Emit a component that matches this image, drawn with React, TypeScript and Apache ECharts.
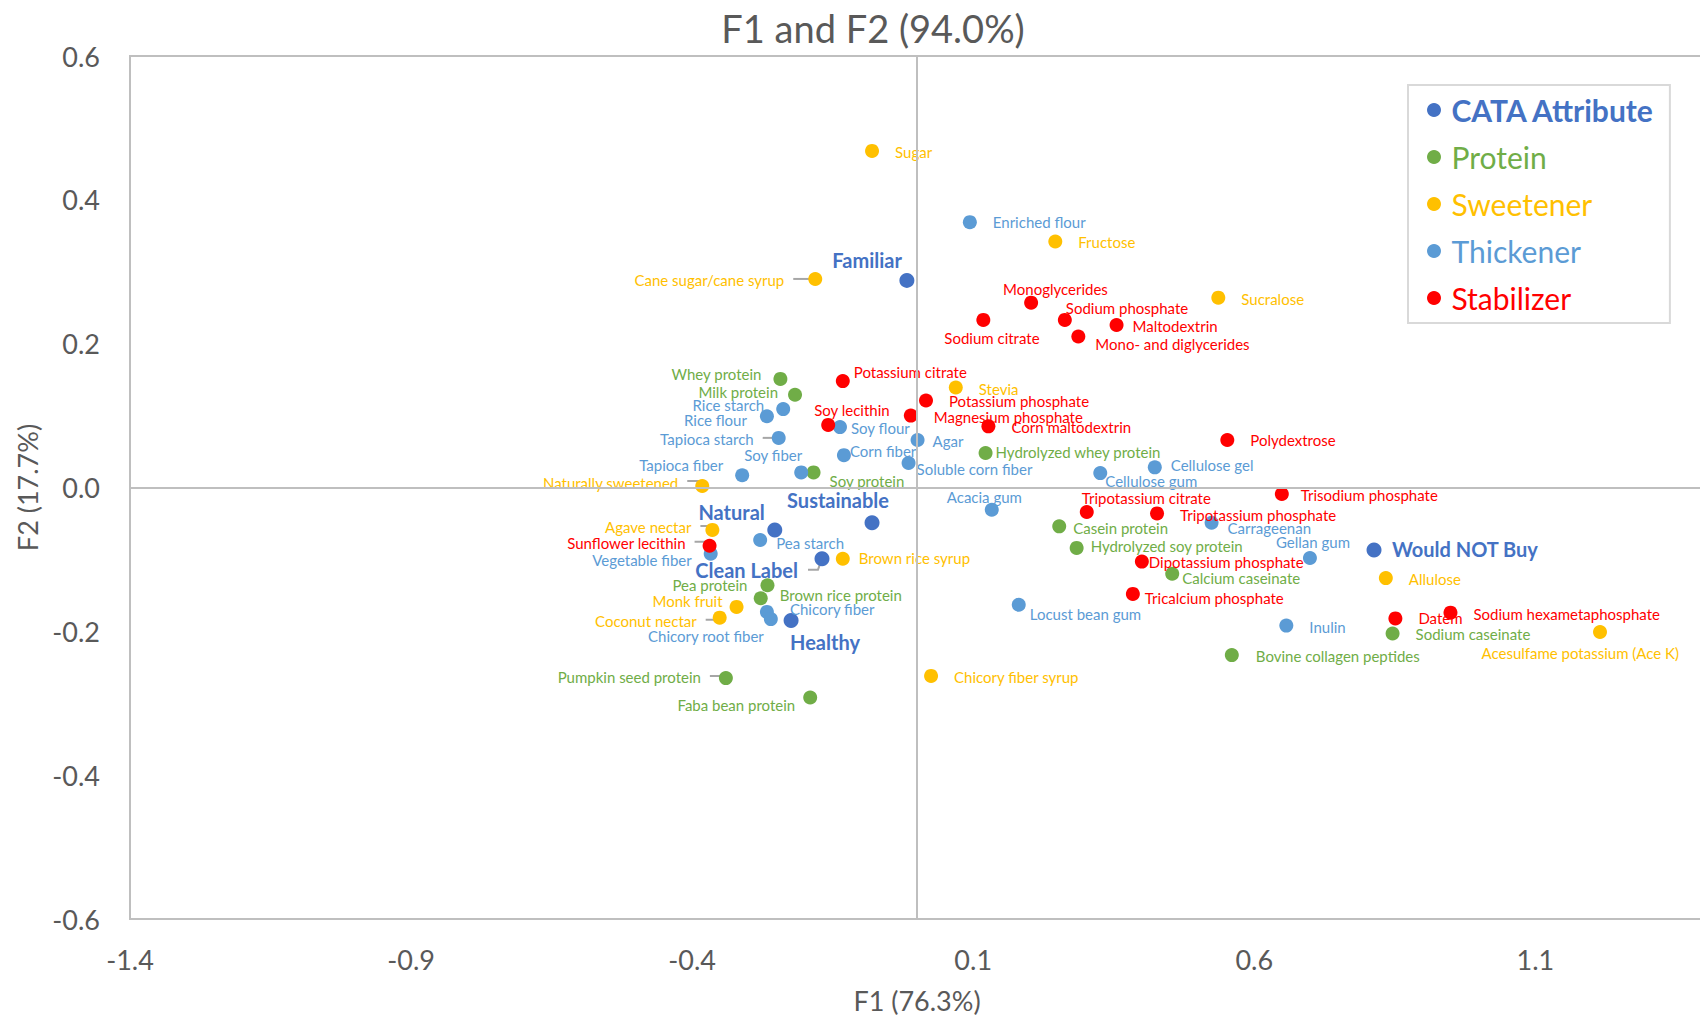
import React, { useEffect, useRef } from 'react';
import * as echarts from 'echarts';

const FONT = 'Lato, "Noto Sans", sans-serif';

// ---------- DATA ----------
const cataNames = ['Familiar', 'Sustainable', 'Natural', 'Clean Label', 'Healthy', 'Would NOT Buy'];
const cataF1 = [-0.018, -0.080, -0.253, -0.169, -0.224, 0.813];
const cataF2 = [0.288, -0.049, -0.059, -0.099, -0.185, -0.087];

const proteinNames = ['Whey protein', 'Milk protein', 'Soy protein', 'Hydrolyzed whey protein', 'Casein protein',
  'Hydrolyzed soy protein', 'Calcium caseinate', 'Pea protein', 'Brown rice protein', 'Bovine collagen peptides',
  'Sodium caseinate', 'Pumpkin seed protein', 'Faba bean protein'];
const proteinF1 = [-0.243, -0.217, -0.184, 0.122, 0.253, 0.284, 0.454, -0.266, -0.278, 0.560, 0.846, -0.340, -0.190];
const proteinF2 = [0.151, 0.129, 0.021, 0.048, -0.054, -0.084, -0.120, -0.136, -0.154, -0.233, -0.203, -0.265, -0.292];

const sweetenerNames = ['Sugar', 'Fructose', 'Cane sugar/cane syrup', 'Sucralose', 'Stevia', 'Naturally sweetened',
  'Agave nectar', 'Brown rice syrup', 'Allulose', 'Monk fruit', 'Coconut nectar', 'Acesulfame potassium (Ace K)',
  'Chicory fiber syrup'];
const sweetenerF1 = [-0.080, 0.246, -0.181, 0.536, 0.069, -0.382, -0.364, -0.132, 0.834, -0.321, -0.351, 1.215, 0.025];
const sweetenerF2 = [0.468, 0.342, 0.290, 0.264, 0.139, 0.002, -0.059, -0.099, -0.126, -0.166, -0.181, -0.201, -0.262];

const thickenerNames = ['Enriched flour', 'Rice starch', 'Rice flour', 'Soy flour', 'Tapioca starch', 'Agar',
  'Corn fiber', 'Soluble corn fiber', 'Tapioca fiber', 'Soy fiber', 'Cellulose gel', 'Cellulose gum', 'Acacia gum',
  'Carrageenan', 'Pea starch', 'Vegetable fiber', 'Gellan gum', 'Locust bean gum', 'Chicory fiber',
  'Chicory root fiber', 'Inulin'];
const thickenerF1 = [0.094, -0.238, -0.267, -0.137, -0.246, 0.001, -0.130, -0.015, -0.311, -0.206, 0.423, 0.326,
  0.133, 0.524, -0.279, -0.367, 0.699, 0.181, -0.267, -0.260, 0.657];
const thickenerF2 = [0.369, 0.109, 0.099, 0.084, 0.069, 0.066, 0.045, 0.034, 0.017, 0.021, 0.028, 0.020, -0.031,
  -0.049, -0.073, -0.092, -0.098, -0.163, -0.173, -0.183, -0.192];

const stabilizerNames = ['Monoglycerides', 'Sodium phosphate', 'Sodium citrate', 'Maltodextrin',
  'Mono- and diglycerides', 'Potassium citrate', 'Potassium phosphate', 'Magnesium phosphate', 'Soy lecithin',
  'Corn maltodextrin', 'Polydextrose', 'Trisodium phosphate', 'Tripotassium citrate', 'Tripotassium phosphate',
  'Sunflower lecithin', 'Dipotassium phosphate', 'Tricalcium phosphate', 'Datem', 'Sodium hexametaphosphate'];
const stabilizerF1 = [0.203, 0.263, 0.118, 0.355, 0.287, -0.132, 0.016, -0.011, -0.158, 0.127, 0.552, 0.649, 0.302,
  0.427, -0.369, 0.400, 0.384, 0.851, 0.949];
const stabilizerF2 = [0.257, 0.233, 0.233, 0.226, 0.210, 0.148, 0.121, 0.100, 0.087, 0.085, 0.066, -0.009, -0.034,
  -0.036, -0.081, -0.103, -0.148, -0.182, -0.174];

const groupNames = ['CATA Attribute', 'Protein', 'Sweetener', 'Thickener', 'Stabilizer'];

// ---------- LAYOUT / STYLE ----------
const COLORS: Record<string, string> = {
  'CATA Attribute': '#4472C4',
  Protein: '#70AD47',
  Sweetener: '#FFC000',
  Thickener: '#5B9BD5',
  Stabilizer: '#FF0000',
};

// label placement: [align, dx, dy] relative to the point centre (pixels)
const LABEL_POS: Record<string, [string, number, number]> = {
  Familiar: ['right', -5, -20],
  Sustainable: ['right', 17, -23],
  Natural: ['right', -10, -18],
  'Clean Label': ['right', -24, 11],
  Healthy: ['left', -1, 21],
  'Would NOT Buy': ['left', 18, -1],

  'Whey protein': ['right', -19, -5],
  'Milk protein': ['right', -17, -3],
  'Soy protein': ['left', 16, 9],
  'Hydrolyzed whey protein': ['left', 10, -1],
  'Casein protein': ['left', 14, 2],
  'Hydrolyzed soy protein': ['left', 14, -2],
  'Calcium caseinate': ['left', 10, 4],
  'Pea protein': ['right', -20, 0],
  'Brown rice protein': ['left', 19, -3],
  'Bovine collagen peptides': ['left', 24, 1],
  'Sodium caseinate': ['left', 23, 1],
  'Pumpkin seed protein': ['right', -25, -1],
  'Faba bean protein': ['right', -15, 8],

  Sugar: ['left', 23, 1],
  Fructose: ['left', 23, 0],
  'Cane sugar/cane syrup': ['right', -31, 1],
  Sucralose: ['left', 23, 1],
  Stevia: ['left', 23, 1],
  'Naturally sweetened': ['right', -24, -3],
  'Agave nectar': ['right', -21, -3],
  'Brown rice syrup': ['left', 16, -1],
  Allulose: ['left', 23, 1],
  'Monk fruit': ['right', -14, -6],
  'Coconut nectar': ['right', -23, 3],
  'Acesulfame potassium (Ace K)': ['right', 79, 21],
  'Chicory fiber syrup': ['left', 23, 1],

  'Enriched flour': ['left', 23, 0],
  'Rice starch': ['right', -19, -4],
  'Rice flour': ['right', -20, 4],
  'Soy flour': ['left', 11, 1],
  'Tapioca starch': ['right', -25, 1],
  Agar: ['left', 15, 1],
  'Corn fiber': ['left', 6, -4],
  'Soluble corn fiber': ['left', 8, 6],
  'Tapioca fiber': ['right', -19, -10],
  'Soy fiber': ['right', 1, -17],
  'Cellulose gel': ['left', 16, -2],
  'Cellulose gum': ['left', 5, 8],
  'Acacia gum': ['left', -45, -13],
  Carrageenan: ['left', 16, 5],
  'Pea starch': ['left', 16, 3],
  'Vegetable fiber': ['right', -19, 6],
  'Gellan gum': ['left', -34, -16],
  'Locust bean gum': ['left', 11, 9],
  'Chicory fiber': ['left', 23, -3],
  'Chicory root fiber': ['right', -7, 17],
  Inulin: ['left', 23, 1],

  Monoglycerides: ['left', -28, -14],
  'Sodium phosphate': ['left', 1, -12],
  'Sodium citrate': ['left', -39, 18],
  Maltodextrin: ['left', 16, 1],
  'Mono- and diglycerides': ['left', 17, 8],
  'Potassium citrate': ['left', 11, -9],
  'Potassium phosphate': ['left', 23, 1],
  'Magnesium phosphate': ['left', 23, 1],
  'Soy lecithin': ['left', -14, -15],
  'Corn maltodextrin': ['left', 23, 1],
  Polydextrose: ['left', 23, 0],
  'Trisodium phosphate': ['left', 19, 1],
  'Tripotassium citrate': ['left', -5, -14],
  'Tripotassium phosphate': ['left', 23, 2],
  'Sunflower lecithin': ['right', -24, -3],
  'Dipotassium phosphate': ['left', 7, 0],
  'Tricalcium phosphate': ['left', 12, 4],
  Datem: ['left', 23, 0],
  'Sodium hexametaphosphate': ['left', 23, 1],
};

// leader-line shapes (pixel offsets from the point centre)
const LEADERS: Record<string, number[][]> = {
  'Cane sugar/cane syrup': [[-22, 0], [0, 0]],
  'Tapioca starch': [[-16, 0], [0, 0]],
  'Naturally sweetened': [[-15, -5], [-3, -5], [0, 0]],
  'Agave nectar': [[-12, -4], [-1, -4], [0, 0]],
  'Sunflower lecithin': [[-15, -4], [-3, -4], [0, 0]],
  'Coconut nectar': [[-14, 2], [-3, 2], [0, 0]],
  'Pumpkin seed protein': [[-16, -2], [-6, -2], [0, 0]],
  'Clean Label': [[-14, 11], [-4, 11], [0, 0]],
};

const GROUPS: [string, string[], number[], number[]][] = [
  ['CATA Attribute', cataNames, cataF1, cataF2],
  ['Protein', proteinNames, proteinF1, proteinF2],
  ['Sweetener', sweetenerNames, sweetenerF1, sweetenerF2],
  ['Thickener', thickenerNames, thickenerF1, thickenerF2],
  ['Stabilizer', stabilizerNames, stabilizerF1, stabilizerF2],
];

function findPoint(name: string): number[] {
  for (const g of GROUPS) {
    const i = g[1].indexOf(name);
    if (i >= 0) return [g[2][i], g[3][i]];
  }
  return [0, 0];
}

const fmt1 = (v: number) => (Math.abs(v) < 1e-9 ? '0.0' : v.toFixed(1));

function buildOption() {
  const leaderNames = Object.keys(LEADERS);
  const series: any[] = [
    {
      type: 'custom',
      name: 'leaders',
      coordinateSystem: 'cartesian2d',
      z: 1,
      silent: true,
      data: leaderNames.map((n) => findPoint(n)),
      renderItem: (params: any, api: any) => {
        const p = api.coord([api.value(0), api.value(1)]);
        const offs = LEADERS[leaderNames[params.dataIndex]];
        return {
          type: 'polyline',
          shape: { points: offs.map((o) => [p[0] + o[0], p[1] + o[1]]) },
          style: { stroke: '#A6A6A6', lineWidth: 2, fill: 'none' },
          silent: true,
        };
      },
      markLine: {
        silent: true,
        symbol: 'none',
        label: { show: false },
        lineStyle: { color: '#BFBFBF', width: 2, type: 'solid' },
        data: [{ xAxis: 0 }, { yAxis: 0 }],
      },
    },
  ];

  GROUPS.forEach(([gname, names, xs, ys]) => {
    const color = COLORS[gname];
    const isCata = gname === 'CATA Attribute';
    series.push({
      type: 'scatter',
      name: gname,
      z: 3,
      symbol: 'circle',
      symbolSize: isCata ? 15 : 14,
      itemStyle: { color, opacity: 1 },
      emphasis: { disabled: true },
      label: {
        show: true,
        position: 'inside',
        formatter: '{b}',
        color,
        fontFamily: FONT,
        fontSize: isCata ? 20 : 15,
        fontWeight: isCata ? 'bold' : 'normal',
        verticalAlign: 'middle',
        textBorderWidth: 0,
      },
      data: names.map((n, i) => {
        const lp = LABEL_POS[n] || ['left', 20, 0];
        return {
          name: n,
          value: [xs[i], ys[i]],
          label: { align: lp[0], offset: [lp[1], lp[2]] },
        };
      }),
    });
  });

  return {
    animation: false,
    backgroundColor: '#FFFFFF',
    title: {
      text: 'F1 and F2 (94.0%)',
      left: 873,
      top: 9,
      textAlign: 'center',
      padding: 0,
      textStyle: { fontFamily: FONT, fontSize: 38, fontWeight: 'normal', color: '#595959' },
    },
    legend: {
      data: groupNames.map((g) => ({
        name: g,
        textStyle: { color: COLORS[g], fontWeight: g === 'CATA Attribute' ? 'bold' : 'normal' },
      })),
      orient: 'vertical',
      left: 1408,
      top: 85,
      padding: [10, 15, 10, 19],
      itemGap: 17,
      itemWidth: 25,
      itemHeight: 14,
      icon: 'circle',
      selectedMode: false,
      borderColor: '#D9D9D9',
      borderWidth: 2,
      backgroundColor: '#FFFFFF',
      textStyle: { fontFamily: FONT, fontSize: 30, lineHeight: 30 },
    },
    grid: {
      left: 130,
      top: 56,
      right: -4,
      bottom: 101,
      outerBoundsMode: 'none',
      containLabel: false,
      show: true,
      borderColor: '#BFBFBF',
      borderWidth: 2,
      backgroundColor: 'transparent',
    },
    xAxis: {
      type: 'value',
      min: -1.4,
      max: 1.4,
      interval: 0.5,
      splitLine: { show: false },
      axisLine: { show: false },
      axisTick: { show: false },
      axisLabel: {
        formatter: fmt1,
        fontFamily: FONT,
        fontSize: 27,
        color: '#595959',
        margin: 27,
        showMaxLabel: false,
      },
      name: 'F1 (76.3%)',
      nameLocation: 'middle',
      nameGap: 68,
      nameTextStyle: { fontFamily: FONT, fontSize: 27, color: '#595959' },
    },
    yAxis: {
      type: 'value',
      min: -0.6,
      max: 0.6,
      interval: 0.2,
      splitLine: { show: false },
      axisLine: { show: false },
      axisTick: { show: false },
      axisLabel: {
        formatter: fmt1,
        fontFamily: FONT,
        fontSize: 27,
        color: '#595959',
        margin: 30,
      },
      name: 'F2 (17.7%)',
      nameLocation: 'middle',
      nameGap: 89,
      nameRotate: 90,
      nameTextStyle: { fontFamily: FONT, fontSize: 27, color: '#595959' },
    },
    series,
  };
}

export default function App() {
  const ref = useRef<HTMLDivElement>(null);
  useEffect(() => {
    document.body.style.margin = '0';
    document.body.style.overflow = 'hidden';
    const chart = echarts.init(ref.current!, null, { renderer: 'svg' });
    chart.setOption(buildOption() as any);
    return () => chart.dispose();
  }, []);
  return <div ref={ref} style={{ width: 1700, height: 1020 }} />;
}
